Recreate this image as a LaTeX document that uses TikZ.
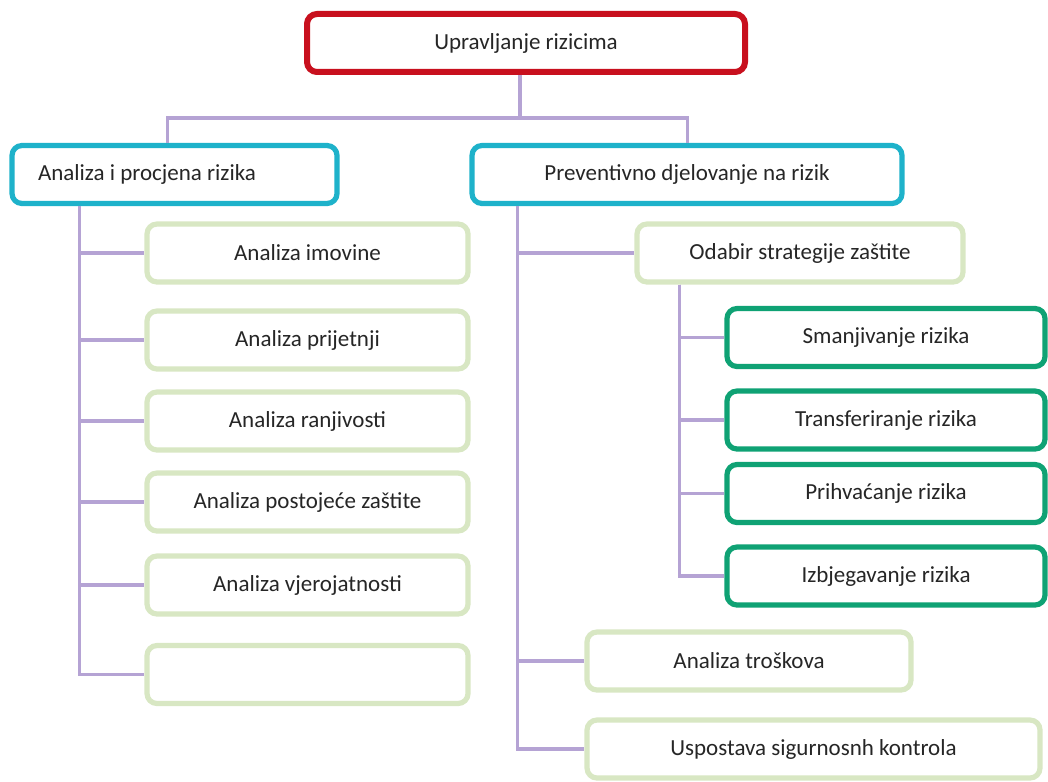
\documentclass[tikz,border=0pt]{standalone}
\usepackage{fontspec}
\setmainfont{Carlito}
\usepackage{tikz}
\usetikzlibrary{positioning, calc}

\definecolor{rootred}{HTML}{C8101E}
\definecolor{maincyan}{HTML}{1EB2CA}
\definecolor{leafgreen}{HTML}{D8E7C3}
\definecolor{stratgreen}{HTML}{0FA274}
\definecolor{linkviolet}{HTML}{B5A3D4}

\begin{document}
\begin{tikzpicture}[
    x=0.5pt, y=-0.5pt,
    every node/.style={font=\fontsize{11.5}{13}\selectfont, text=black!85},
    rootbox/.style={draw=rootred, line width=3pt, rounded corners=5pt, fill=white, minimum width=219pt, minimum height=29pt, align=center},
    mainbox/.style={draw=maincyan, line width=2.6pt, rounded corners=5pt, fill=white, minimum height=29pt, align=center},
    leafbox/.style={draw=leafgreen, line width=2.6pt, rounded corners=5pt, fill=white, minimum width=160.5pt, minimum height=29pt, align=center},
    stratbox/.style={draw=stratgreen, line width=2.6pt, rounded corners=5pt, fill=white, minimum width=159pt, minimum height=29pt, align=center},
    link/.style={draw=linkviolet, line width=1.6pt}
]
\useasboundingbox (0,0) rectangle (1048,781);

% top level
\node[rootbox] (root) at (526,43) {Upravljanje rizicima};
\node[mainbox, minimum width=162.5pt, text width=136.5pt, align=flush left, inner xsep=13pt] (analiza) at (174.5,174.5) {Analiza i procjena rizika};
\node[mainbox, minimum width=215pt] (prevent) at (687,174.5) {Preventivno djelovanje na rizik};

% analysis branch
\node[leafbox] (imovina) at (307.5,253) {Analiza imovine};
\node[leafbox] (prijetnje) at (307.5,340) {Analiza prijetnji};
\node[leafbox] (ranjivost) at (307.5,421) {Analiza ranjivosti};
\node[leafbox] (postojeca) at (307.5,502) {Analiza postojeće zaštite};
\node[leafbox] (vjerojatnost) at (307.5,585) {Analiza vjerojatnosti};
\node[leafbox] (prazno) at (307.5,674.5) {};

% prevention branch
\node[leafbox, minimum width=163pt] (odabir) at (800,253) {Odabir strategije zaštite};
\node[stratbox] (smanji) at (886,337.5) {Smanjivanje rizika};
\node[stratbox] (transfer) at (886,420) {Transferiranje rizika};
\node[stratbox] (prihvat) at (886,493.5) {Prihvaćanje rizika};
\node[stratbox] (izbjeg) at (886,576) {Izbjegavanje rizika};
\node[leafbox, minimum width=162pt] (troskovi) at (749,661) {Analiza troškova};
\node[leafbox, minimum width=226.5pt] (kontrole) at (813.5,749) {Uspostava sigurnosnh kontrola};

% connectors
\coordinate (split) at (520,118);
\draw[link] ([xshift=-3pt]root.south) -- (split);
\draw[link] ([xshift=79pt]analiza.north west) |- (split) -| ([xshift=109pt]prevent.north west);

\coordinate (trunkL) at ([xshift=35pt]analiza.south west);
\foreach \n in {imovina, prijetnje, ranjivost, postojeca, vjerojatnost, prazno}
    \draw[link] (trunkL) |- (\n.west);

\coordinate (trunkR) at ([xshift=24pt]prevent.south west);
\foreach \n in {odabir, troskovi, kontrole}
    \draw[link] (trunkR) |- (\n.west);

\coordinate (trunkS) at ([xshift=22.5pt]odabir.south west);
\foreach \n in {smanji, transfer, prihvat, izbjeg}
    \draw[link] (trunkS) |- (\n.west);
\end{tikzpicture}
\end{document}
